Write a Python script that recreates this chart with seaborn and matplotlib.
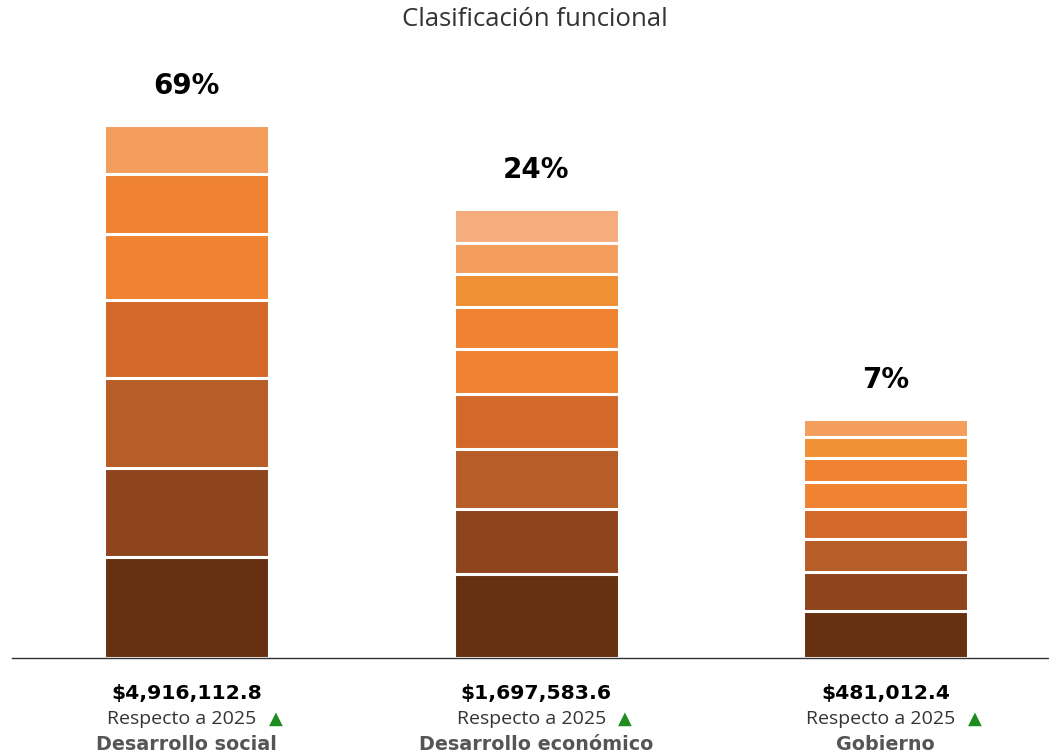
import numpy as np
import pandas as pd
import matplotlib.pyplot as plt
import matplotlib.transforms as mtransforms
import seaborn as sns

# data (segment heights, bottom to top, in chart units)
categories = ['Desarrollo social', 'Desarrollo económico', 'Gobierno']
pct_labels = ['69%', '24%', '7%']
amount_labels = ['$4,916,112.8', '$1,697,583.6', '$481,012.4']

seg_social = [101, 89.5, 90, 78, 66, 60, 48.5]
seg_economico = [84, 65.5, 59.5, 55, 45, 42.5, 33, 31, 34]
seg_gobierno = [47, 39, 33, 30.5, 27, 24, 21, 18]

col_social = ['#673111', '#8E451D', '#B65D28', '#D2692B', '#EF8332', '#EF8332', '#F49E5E']
col_economico = ['#673111', '#8E451D', '#B65D28', '#D2692B', '#EF8332', '#EF8332',
                 '#EF9035', '#F49E5E', '#F6AD7E']
col_gobierno = ['#673111', '#8E451D', '#B65D28', '#D2692B', '#EF8332', '#EF8332',
                '#EF9035', '#F49E5E']

segments = [seg_social, seg_economico, seg_gobierno]
colors = [col_social, col_economico, col_gobierno]

# long table: one row per segment with its cumulative top
rows = []
for cat, segs, cols in zip(categories, segments, colors):
    tops = np.cumsum(segs)
    for i, (t, c) in enumerate(zip(tops, cols)):
        rows.append({'cat': cat, 'layer': i, 'top': t, 'color': c})
df = pd.DataFrame(rows)

sns.set_style('white')
plt.rcParams['font.family'] = ['Open Sans', 'DejaVu Sans']

W, H = 1049, 753
fig = plt.figure(figsize=(W / 100, H / 100), dpi=100)
ax_left, ax_right = 12, 1049
base_y, top_y = 658, 50
ax = fig.add_axes([ax_left / W, (H - base_y) / H, (ax_right - ax_left) / W, (base_y - top_y) / H])

spacing = 349.5
bar_w = 165 / spacing

# draw layers from the top down so lower segments overlay the taller ones
for layer in sorted(df['layer'].unique(), reverse=True):
    sub = df[df['layer'] == layer]
    pal = dict(zip(sub['cat'], sub['color']))
    sns.barplot(data=sub, x='cat', y='top', hue='cat', palette=pal, order=categories,
                hue_order=list(sub['cat']), width=bar_w, edgecolor='white',
                linewidth=2.2, legend=False, saturation=1, ax=ax)

ax.set_xlim(-0.5, -0.5 + (ax_right - ax_left) / spacing)
ax.set_ylim(0, base_y - top_y)
ax.set_xlabel('')
ax.set_ylabel('')
ax.set_xticks([])
ax.set_yticks([])
for s in ['top', 'left', 'right']:
    ax.spines[s].set_visible(False)
ax.spines['bottom'].set_color('#333333')
ax.spines['bottom'].set_linewidth(1)

bold_font = 'DejaVu Sans'

# percentage labels above bars
for i, (segs, lab) in enumerate(zip(segments, pct_labels)):
    ax.annotate(lab, (i, sum(segs)), xytext=(0, 28), textcoords='offset points',
                ha='center', va='center', fontsize=20, fontweight='bold',
                color='black', family=bold_font)

# labels under the axis
trans = mtransforms.blended_transform_factory(ax.transData, fig.transFigure)
for i, (cat, amt) in enumerate(zip(categories, amount_labels)):
    ax.text(i, 1 - 693 / H, amt, transform=trans, ha='center', va='center',
            fontsize=14.7, fontweight='bold', color='black', family=bold_font)
    ax.text(i - 5 / spacing, 1 - 719 / H, 'Respecto a 2025', transform=trans,
            ha='center', va='center', fontsize=14, color='#333333')
    ax.text(i + 89 / spacing, 1 - 719 / H, '▲', transform=trans, ha='center',
            va='center', fontsize=13, color='#1E8C1E', family='DejaVu Sans')
    ax.text(i, 1 - 745 / H, cat, transform=trans, ha='center', va='center',
            fontsize=13.8, fontweight='bold', color='#555555', family=bold_font)

fig.text(535 / W, 1 - 20 / H, 'Clasificación funcional', ha='center', va='center',
         fontsize=18.5, color='#333333')

fig.savefig('out.png', dpi=100)
